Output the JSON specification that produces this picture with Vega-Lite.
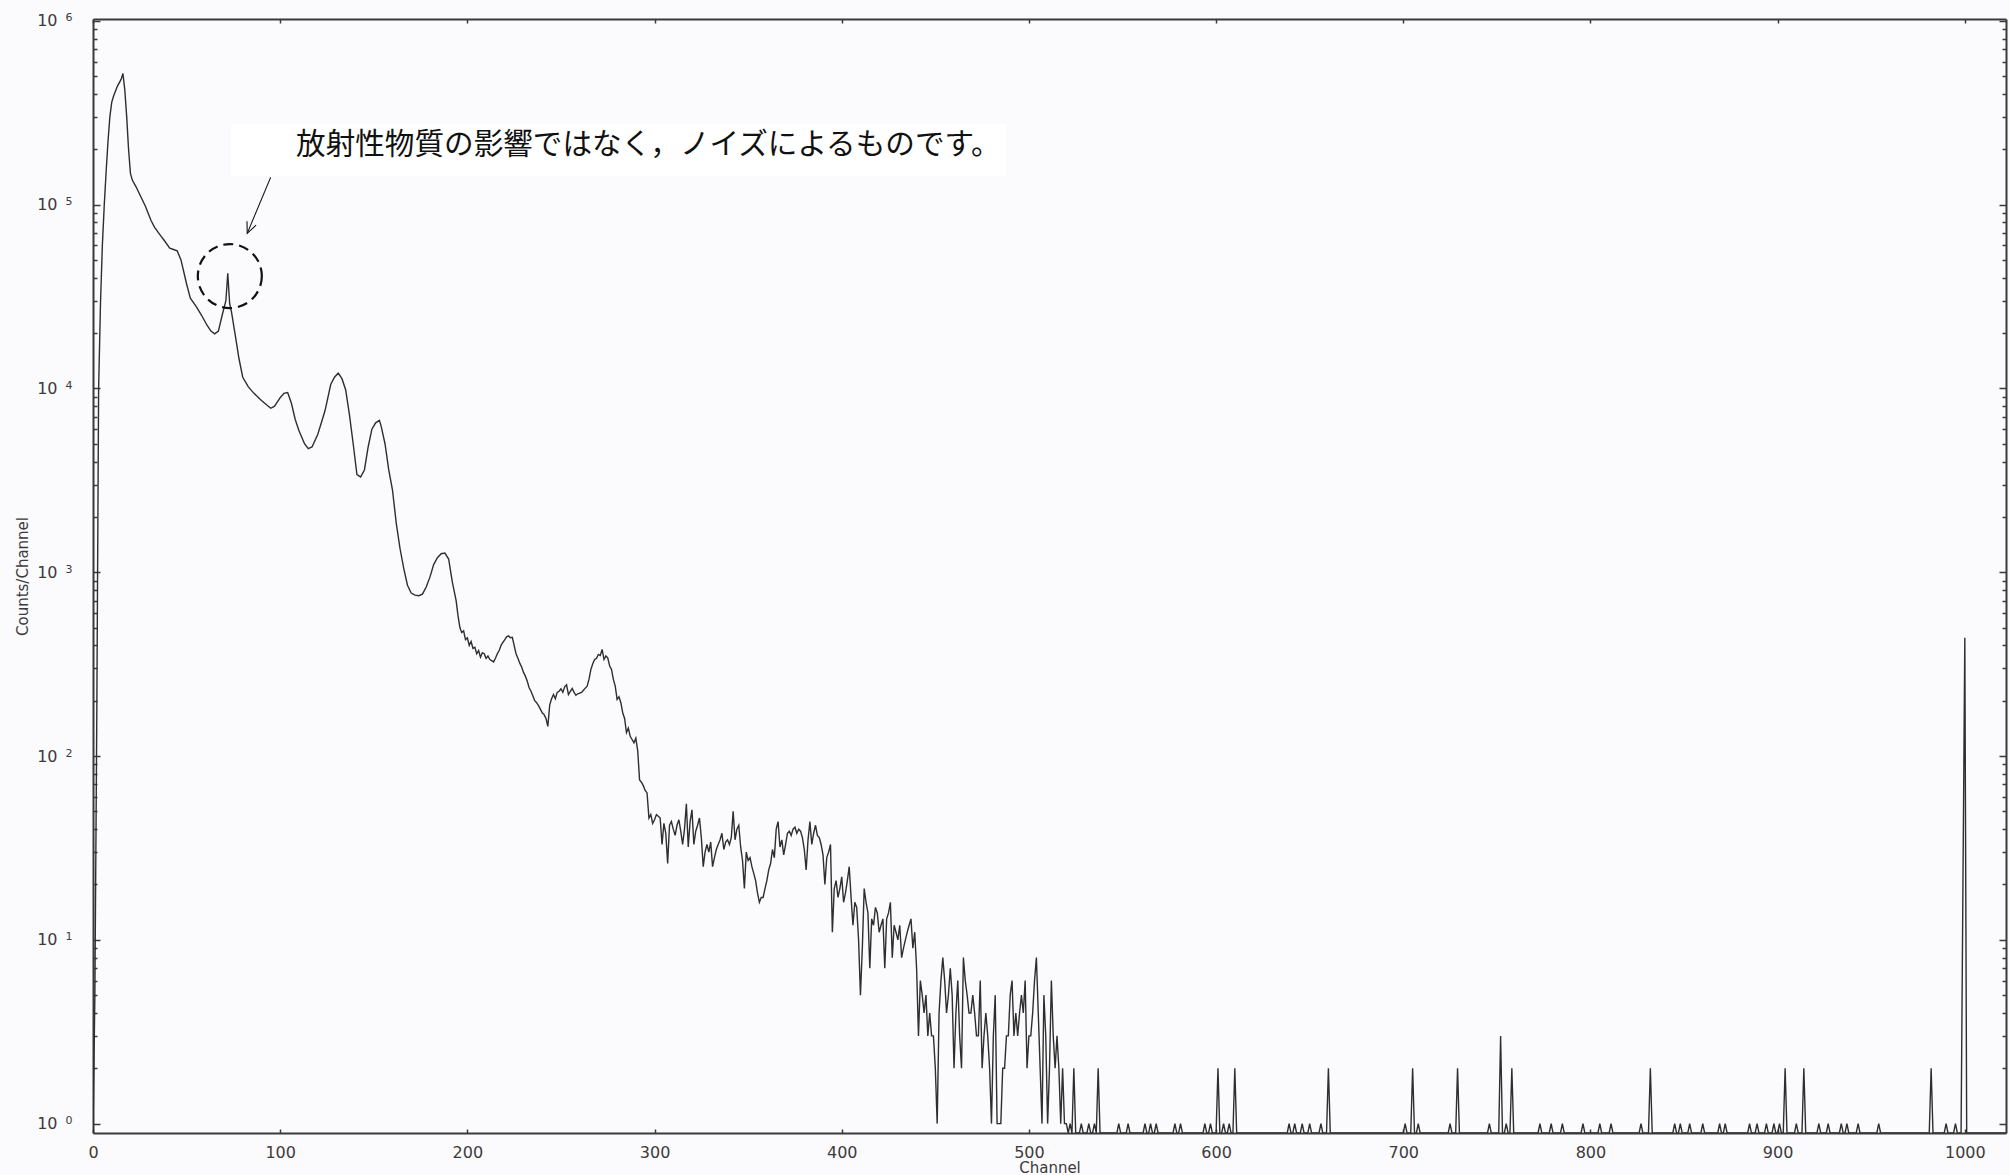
{
"$schema": "https://vega.github.io/schema/vega-lite/v6.json",
"width": 1913, "height": 1114,
"autosize": {"type": "none"},
"padding": {"left": 93, "top": 19, "right": 4, "bottom": 42},
"background": "#fbfafd",
"config": {
  "view": {"stroke": null},
  "axis": {"grid": false, "domainColor": "#3a3a3a", "domainWidth": 2, "tickColor": "#3a3a3a", "tickWidth": 1.5,
    "labelFont": "DejaVu Sans", "labelFontSize": 16, "labelColor": "#3b3b3b", "labelOverlap": false, "labelFlush": false,
    "titleFont": "DejaVu Sans", "titleFontSize": 15, "titleFontWeight": "normal", "titleColor": "#3b3b3b"}
},
"datasets": {
"spec": [
{"c":0,"n":0},{"c":1,"n":5},{"c":2,"n":150},{"c":3,"n":10000},{"c":4,"n":29000},{"c":5,"n":60000},{"c":6,"n":99000},{"c":7,"n":150000},{"c":8,"n":220000},{"c":9,"n":300000},{"c":10,"n":360000},{"c":11,"n":390000},{"c":13,"n":440000},{"c":15,"n":480000},{"c":16,"n":517000},{"c":17,"n":420000},{"c":18,"n":300000},{"c":19,"n":200000},{"c":20,"n":148000},{"c":21,"n":136000},{"c":23,"n":125000},{"c":26,"n":108000},{"c":28,"n":98000},{"c":31,"n":82000},{"c":33,"n":75000},{"c":36,"n":68000},{"c":38,"n":64000},{"c":41,"n":58000},{"c":43,"n":57000},{"c":45,"n":56000},{"c":47,"n":50000},{"c":50,"n":37000},{"c":52,"n":31000},{"c":55,"n":28000},{"c":58,"n":25000},{"c":61,"n":22000},{"c":63,"n":20500},{"c":65,"n":19800},{"c":67,"n":20500},{"c":69,"n":25000},{"c":71,"n":30000},{"c":72,"n":42300},{"c":73,"n":29000},{"c":74,"n":26000},{"c":76,"n":19500},{"c":78,"n":14500},{"c":80,"n":11500},{"c":83,"n":10200},{"c":86,"n":9400},{"c":90,"n":8600},{"c":93,"n":8100},{"c":95,"n":7800},{"c":97,"n":8000},{"c":100,"n":8900},{"c":102,"n":9400},{"c":104,"n":9500},{"c":106,"n":8300},{"c":108,"n":6800},{"c":110,"n":5900},{"c":113,"n":5000},{"c":115,"n":4700},{"c":117,"n":4800},{"c":120,"n":5600},{"c":122,"n":6500},{"c":124,"n":7600},{"c":127,"n":10500},{"c":129,"n":11500},{"c":131,"n":12100},{"c":133,"n":11300},{"c":135,"n":9800},{"c":137,"n":7200},{"c":139,"n":5000},{"c":141,"n":3400},{"c":143,"n":3300},{"c":145,"n":3600},{"c":147,"n":4800},{"c":149,"n":6000},{"c":151,"n":6500},{"c":153,"n":6700},{"c":154,"n":6200},{"c":156,"n":5000},{"c":158,"n":3600},{"c":160,"n":2800},{"c":162,"n":1850},{"c":164,"n":1350},{"c":166,"n":1050},{"c":168,"n":850},{"c":170,"n":770},{"c":172,"n":750},{"c":174,"n":745},{"c":176,"n":760},{"c":178,"n":830},{"c":180,"n":940},{"c":182,"n":1100},{"c":184,"n":1200},{"c":186,"n":1260},{"c":188,"n":1270},{"c":190,"n":1180},{"c":192,"n":880},{"c":194,"n":700},{"c":195,"n":580},{"c":196,"n":500},{"c":197,"n":470},{"c":198,"n":480},{"c":199,"n":430},{"c":200,"n":440},{"c":201,"n":400},{"c":202,"n":420},{"c":203,"n":385},{"c":204,"n":390},{"c":205,"n":360},{"c":206,"n":375},{"c":207,"n":345},{"c":208,"n":365},{"c":209,"n":360},{"c":210,"n":340},{"c":211,"n":350},{"c":212,"n":335},{"c":213,"n":330},{"c":214,"n":325},{"c":215,"n":340},{"c":216,"n":360},{"c":217,"n":375},{"c":218,"n":400},{"c":219,"n":415},{"c":220,"n":430},{"c":221,"n":445},{"c":222,"n":450},{"c":223,"n":440},{"c":224,"n":442},{"c":225,"n":400},{"c":226,"n":360},{"c":227,"n":340},{"c":228,"n":320},{"c":229,"n":305},{"c":230,"n":285},{"c":231,"n":272},{"c":232,"n":255},{"c":233,"n":235},{"c":234,"n":225},{"c":235,"n":212},{"c":236,"n":200},{"c":237,"n":195},{"c":238,"n":188},{"c":239,"n":180},{"c":240,"n":172},{"c":241,"n":168},{"c":242,"n":160},{"c":243,"n":145},{"c":244,"n":190},{"c":245,"n":205},{"c":246,"n":216},{"c":247,"n":205},{"c":248,"n":222},{"c":249,"n":225},{"c":250,"n":232},{"c":251,"n":222},{"c":252,"n":238},{"c":253,"n":244},{"c":254,"n":216},{"c":255,"n":225},{"c":256,"n":233},{"c":257,"n":222},{"c":258,"n":214},{"c":259,"n":218},{"c":260,"n":220},{"c":261,"n":222},{"c":262,"n":228},{"c":263,"n":234},{"c":264,"n":240},{"c":265,"n":262},{"c":266,"n":296},{"c":267,"n":318},{"c":268,"n":335},{"c":269,"n":340},{"c":270,"n":357},{"c":271,"n":352},{"c":272,"n":380},{"c":273,"n":335},{"c":274,"n":350},{"c":275,"n":342},{"c":276,"n":310},{"c":277,"n":296},{"c":278,"n":261},{"c":279,"n":240},{"c":280,"n":203},{"c":281,"n":210},{"c":282,"n":195},{"c":283,"n":172},{"c":284,"n":160},{"c":285,"n":134},{"c":286,"n":142},{"c":287,"n":128},{"c":288,"n":123},{"c":289,"n":118},{"c":290,"n":125},{"c":291,"n":107},{"c":292,"n":74},{"c":293,"n":72},{"c":294,"n":69},{"c":295,"n":65},{"c":296,"n":63},{"c":297,"n":46},{"c":298,"n":48},{"c":299,"n":43},{"c":300,"n":45},{"c":301,"n":48},{"c":302,"n":47},{"c":303,"n":46},{"c":304,"n":33},{"c":305,"n":43},{"c":306,"n":38},{"c":307,"n":26},{"c":308,"n":42},{"c":309,"n":44},{"c":310,"n":40},{"c":311,"n":37},{"c":312,"n":42},{"c":313,"n":45},{"c":314,"n":39},{"c":315,"n":33},{"c":316,"n":40},{"c":317,"n":55},{"c":318,"n":32},{"c":319,"n":44},{"c":320,"n":51},{"c":321,"n":33},{"c":322,"n":39},{"c":323,"n":42},{"c":324,"n":46},{"c":325,"n":36},{"c":326,"n":25},{"c":327,"n":30},{"c":328,"n":33},{"c":329,"n":30},{"c":330,"n":34},{"c":331,"n":25},{"c":332,"n":28},{"c":333,"n":31},{"c":334,"n":33},{"c":335,"n":35},{"c":336,"n":38},{"c":337,"n":31},{"c":338,"n":34},{"c":339,"n":35},{"c":340,"n":33},{"c":341,"n":36},{"c":342,"n":50},{"c":343,"n":35},{"c":344,"n":40},{"c":345,"n":42},{"c":346,"n":32},{"c":347,"n":27},{"c":348,"n":19},{"c":349,"n":30},{"c":350,"n":27},{"c":351,"n":28},{"c":352,"n":25},{"c":353,"n":23},{"c":354,"n":21},{"c":355,"n":18},{"c":356,"n":16},{"c":357,"n":17},{"c":358,"n":17},{"c":359,"n":19},{"c":360,"n":21},{"c":361,"n":24},{"c":362,"n":26},{"c":363,"n":31},{"c":364,"n":28},{"c":365,"n":40},{"c":366,"n":44},{"c":367,"n":32},{"c":368,"n":35},{"c":369,"n":29},{"c":370,"n":33},{"c":371,"n":38},{"c":372,"n":39},{"c":373,"n":37},{"c":374,"n":40},{"c":375,"n":41},{"c":376,"n":38},{"c":377,"n":40},{"c":378,"n":39},{"c":379,"n":36},{"c":380,"n":31},{"c":381,"n":24},{"c":382,"n":35},{"c":383,"n":44},{"c":384,"n":33},{"c":385,"n":38},{"c":386,"n":42},{"c":387,"n":37},{"c":388,"n":36},{"c":389,"n":33},{"c":390,"n":29},{"c":391,"n":20},{"c":392,"n":28},{"c":393,"n":30},{"c":394,"n":33},{"c":395,"n":11},{"c":396,"n":19},{"c":397,"n":21},{"c":398,"n":17},{"c":399,"n":19},{"c":400,"n":22},{"c":401,"n":16},{"c":402,"n":18},{"c":403,"n":21},{"c":404,"n":25},{"c":405,"n":17},{"c":406,"n":12},{"c":407,"n":16},{"c":408,"n":15},{"c":409,"n":10},{"c":410,"n":5},{"c":411,"n":9},{"c":412,"n":19},{"c":413,"n":16},{"c":414,"n":14},{"c":415,"n":7},{"c":416,"n":13},{"c":417,"n":12},{"c":418,"n":15},{"c":419,"n":14},{"c":420,"n":11},{"c":421,"n":12},{"c":422,"n":13},{"c":423,"n":7},{"c":424,"n":13},{"c":425,"n":14},{"c":426,"n":16},{"c":427,"n":8},{"c":428,"n":12},{"c":429,"n":11},{"c":430,"n":10},{"c":431,"n":12},{"c":432,"n":8},{"c":433,"n":9},{"c":434,"n":10},{"c":435,"n":11},{"c":436,"n":12},{"c":437,"n":13},{"c":438,"n":9},{"c":439,"n":11},{"c":440,"n":7},{"c":441,"n":3},{"c":442,"n":6},{"c":443,"n":5},{"c":444,"n":4},{"c":445,"n":5},{"c":446,"n":3},{"c":447,"n":4},{"c":448,"n":3},{"c":449,"n":3},{"c":450,"n":2},{"c":451,"n":1},{"c":452,"n":4},{"c":453,"n":6},{"c":454,"n":8},{"c":455,"n":6},{"c":456,"n":4},{"c":457,"n":5},{"c":458,"n":7},{"c":459,"n":5},{"c":460,"n":2},{"c":461,"n":4},{"c":462,"n":6},{"c":463,"n":3},{"c":464,"n":2},{"c":465,"n":8},{"c":466,"n":6},{"c":467,"n":5},{"c":468,"n":4},{"c":469,"n":4},{"c":470,"n":5},{"c":471,"n":4},{"c":472,"n":3},{"c":473,"n":3},{"c":474,"n":6},{"c":475,"n":2},{"c":476,"n":3},{"c":477,"n":4},{"c":478,"n":3},{"c":479,"n":2},{"c":480,"n":1},{"c":481,"n":3},{"c":482,"n":5},{"c":483,"n":1},{"c":484,"n":1},{"c":485,"n":1},{"c":486,"n":2},{"c":487,"n":2},{"c":488,"n":3},{"c":489,"n":3},{"c":490,"n":5},{"c":491,"n":6},{"c":492,"n":3},{"c":493,"n":4},{"c":494,"n":3},{"c":495,"n":4},{"c":496,"n":5},{"c":497,"n":4},{"c":498,"n":6},{"c":499,"n":2},{"c":500,"n":3},{"c":501,"n":3},{"c":502,"n":4},{"c":503,"n":6},{"c":504,"n":8},{"c":505,"n":4},{"c":506,"n":2},{"c":507,"n":1},{"c":508,"n":5},{"c":509,"n":3},{"c":510,"n":1},{"c":511,"n":2},{"c":512,"n":6},{"c":513,"n":3},{"c":514,"n":2},{"c":515,"n":3},{"c":516,"n":2},{"c":517,"n":1},{"c":518,"n":2},{"c":519,"n":1},{"c":520,"n":1},
{"c":521,"n":0},{"c":522,"n":1},{"c":523,"n":0},{"c":524,"n":2},{"c":525,"n":0},{"c":527,"n":0},{"c":528,"n":1},{"c":529,"n":0},{"c":531,"n":0},{"c":532,"n":1},{"c":533,"n":0},{"c":534,"n":0},{"c":535,"n":1},{"c":536,"n":0},{"c":537,"n":2},{"c":538,"n":0},
{"c":547,"n":0},{"c":548,"n":1},{"c":549,"n":0},{"c":552,"n":0},{"c":553,"n":1},{"c":554,"n":0},
{"c":561,"n":0},{"c":562,"n":1},{"c":563,"n":0},{"c":564,"n":0},{"c":565,"n":1},{"c":566,"n":0},{"c":567,"n":0},{"c":568,"n":1},{"c":569,"n":0},
{"c":577,"n":0},{"c":578,"n":1},{"c":579,"n":0},{"c":580,"n":0},{"c":581,"n":1},{"c":582,"n":0},
{"c":593,"n":0},{"c":594,"n":1},{"c":595,"n":0},{"c":596,"n":0},{"c":597,"n":1},{"c":598,"n":0},{"c":600,"n":0},{"c":601,"n":2},{"c":602,"n":0},{"c":603,"n":0},{"c":604,"n":1},{"c":605,"n":0},{"c":606,"n":0},{"c":607,"n":1},{"c":608,"n":0},{"c":609,"n":0},{"c":610,"n":2},{"c":611,"n":0},
{"c":638,"n":0},{"c":639,"n":1},{"c":640,"n":0},{"c":641,"n":0},{"c":642,"n":1},{"c":643,"n":0},{"c":645,"n":0},{"c":646,"n":1},{"c":647,"n":0},{"c":649,"n":0},{"c":650,"n":1},{"c":651,"n":0},{"c":655,"n":0},{"c":656,"n":1},{"c":657,"n":0},{"c":659,"n":0},{"c":660,"n":2},{"c":661,"n":0},
{"c":700,"n":0},{"c":701,"n":1},{"c":702,"n":0},{"c":704,"n":0},{"c":705,"n":2},{"c":706,"n":0},{"c":707,"n":0},{"c":708,"n":1},{"c":709,"n":0},
{"c":724,"n":0},{"c":725,"n":1},{"c":726,"n":0},{"c":728,"n":0},{"c":729,"n":2},{"c":730,"n":0},
{"c":745,"n":0},{"c":746,"n":1},{"c":747,"n":0},{"c":751,"n":0},{"c":752,"n":3},{"c":753,"n":0},{"c":754,"n":0},{"c":755,"n":1},{"c":756,"n":0},{"c":757,"n":0},{"c":758,"n":2},{"c":759,"n":0},
{"c":772,"n":0},{"c":773,"n":1},{"c":774,"n":0},{"c":778,"n":0},{"c":779,"n":1},{"c":780,"n":0},{"c":784,"n":0},{"c":785,"n":1},{"c":786,"n":0},
{"c":795,"n":0},{"c":796,"n":1},{"c":797,"n":0},{"c":804,"n":0},{"c":805,"n":1},{"c":806,"n":0},{"c":810,"n":0},{"c":811,"n":1},{"c":812,"n":0},
{"c":826,"n":0},{"c":827,"n":1},{"c":828,"n":0},{"c":831,"n":0},{"c":832,"n":2},{"c":833,"n":0},
{"c":844,"n":0},{"c":845,"n":1},{"c":846,"n":0},{"c":847,"n":0},{"c":848,"n":1},{"c":849,"n":0},{"c":852,"n":0},{"c":853,"n":1},{"c":854,"n":0},{"c":859,"n":0},{"c":860,"n":1},{"c":861,"n":0},
{"c":868,"n":0},{"c":869,"n":1},{"c":870,"n":0},{"c":871,"n":0},{"c":872,"n":1},{"c":873,"n":0},
{"c":884,"n":0},{"c":885,"n":1},{"c":886,"n":0},{"c":888,"n":0},{"c":889,"n":1},{"c":890,"n":0},{"c":893,"n":0},{"c":894,"n":1},{"c":895,"n":0},{"c":897,"n":0},{"c":898,"n":1},{"c":899,"n":0},{"c":900,"n":0},{"c":901,"n":1},{"c":902,"n":0},{"c":903,"n":0},{"c":904,"n":2},{"c":905,"n":0},
{"c":909,"n":0},{"c":910,"n":1},{"c":911,"n":0},{"c":913,"n":0},{"c":914,"n":2},{"c":915,"n":0},
{"c":921,"n":0},{"c":922,"n":1},{"c":923,"n":0},{"c":926,"n":0},{"c":927,"n":1},{"c":928,"n":0},{"c":933,"n":0},{"c":934,"n":1},{"c":935,"n":0},{"c":936,"n":0},{"c":937,"n":1},{"c":938,"n":0},{"c":942,"n":0},{"c":943,"n":1},{"c":944,"n":0},
{"c":953,"n":0},{"c":954,"n":1},{"c":955,"n":0},
{"c":981,"n":0},{"c":982,"n":2},{"c":983,"n":0},{"c":989,"n":0},{"c":990,"n":1},{"c":991,"n":0},{"c":994,"n":0},{"c":995,"n":1},{"c":996,"n":0},
{"c":998,"n":0},{"c":999,"n":20},{"c":1000,"n":440},{"c":1001,"n":0},{"c":1022,"n":0}
],
"box": [{"c": 73.7, "c2": 487.8, "n": 143000, "n2": 274400}],
"arrow": [{"c": 94.9, "n": 140700, "c2": 82.4, "n2": 69760}],
"head": [{"c": 82.4, "n": 69760}],
"ring": [{"c": 73.1, "n": 40860}],
"note": [{"c": 108.5, "n": 211000, "label": "放射性物質の影響ではなく，ノイズによるものです。"}]
},
"layer": [
{
  "data": {"name": "box"},
  "mark": {"type": "rect", "fill": "#ffffff", "stroke": null},
  "encoding": {
    "x": {"field": "c", "type": "quantitative", "scale": {"domain": [0, 1022], "nice": false, "zero": false},
      "axis": {"orient": "top", "labels": false, "title": null, "values": [0,100,200,300,400,500,600,700,800,900,1000], "tickSize": -4}},
    "x2": {"field": "c2"},
    "y": {"field": "n", "type": "quantitative", "scale": {"type": "log", "domain": [0.889, 1023000], "nice": false, "clamp": true},
      "axis": {"orient": "right", "labels": false, "title": null,
        "values": [1,2,3,4,5,6,7,8,9,10,20,30,40,50,60,70,80,90,100,200,300,400,500,600,700,800,900,1000,2000,3000,4000,5000,6000,7000,8000,9000,10000,20000,30000,40000,50000,60000,70000,80000,90000,100000,200000,300000,400000,500000,600000,700000,800000,900000,1000000],
        "tickSize": {"condition": {"test": "abs(log(datum.value)/LN10 - round(log(datum.value)/LN10)) < 0.000001", "value": -7}, "value": -4}}},
    "y2": {"field": "n2"}
  }
},
{
  "data": {"name": "spec"},
  "mark": {"type": "line", "stroke": "#2e2e2e", "strokeWidth": 1.4, "invalid": "show", "clip": true},
  "encoding": {
    "x": {"field": "c", "type": "quantitative",
      "axis": {"orient": "bottom", "title": "Channel", "format": "d", "values": [0,100,200,300,400,500,600,700,800,900,1000], "tickSize": -4, "labelPadding": 15, "titlePadding": 0}},
    "y": {"field": "n", "type": "quantitative",
      "axis": {"orient": "left", "title": "Counts/Channel", "titlePadding": 6,
        "values": [1,2,3,4,5,6,7,8,9,10,20,30,40,50,60,70,80,90,100,200,300,400,500,600,700,800,900,1000,2000,3000,4000,5000,6000,7000,8000,9000,10000,20000,30000,40000,50000,60000,70000,80000,90000,100000,200000,300000,400000,500000,600000,700000,800000,900000,1000000],
        "labelExpr": "abs(log(datum.value)/LN10 - round(log(datum.value)/LN10)) < 0.000001 ? '10' : ''",
        "labelPadding": 43,
        "tickSize": {"condition": {"test": "abs(log(datum.value)/LN10 - round(log(datum.value)/LN10)) < 0.000001", "value": -7}, "value": -4}}}
  }
},
{
  "data": {"name": "arrow"},
  "mark": {"type": "rule", "stroke": "#111111", "strokeWidth": 1.1},
  "encoding": {
    "x": {"field": "c", "type": "quantitative", "axis": null},
    "y": {"field": "n", "type": "quantitative", "axis": null},
    "x2": {"field": "c2"},
    "y2": {"field": "n2"}
  }
},
{
  "data": {"name": "head"},
  "mark": {"type": "point", "shape": "M -0.45 -1 L 0 0 L 0.45 -1", "size": 484, "angle": 23, "filled": false, "stroke": "#111111", "strokeWidth": 1.1, "opacity": 1},
  "encoding": {
    "x": {"field": "c", "type": "quantitative", "axis": null},
    "y": {"field": "n", "type": "quantitative", "axis": null}
  }
},
{
  "data": {"name": "ring"},
  "mark": {"type": "point", "shape": "circle", "size": 4096, "filled": false, "stroke": "#111111", "strokeWidth": 2.2, "strokeDash": [10, 6], "opacity": 1},
  "encoding": {
    "x": {"field": "c", "type": "quantitative", "axis": null},
    "y": {"field": "n", "type": "quantitative",
      "axis": {"orient": "left", "title": null, "domain": false, "ticks": true, "tickColor": "transparent", "tickSize": -7,
        "values": [1,10,100,1000,10000,100000,1000000],
        "labelExpr": "'' + round(log(datum.value)/LN10)",
        "labelFontSize": 11, "labelOffset": -3, "labelPadding": 28}}
  }
},
{
  "data": {"name": "note"},
  "mark": {"type": "text", "align": "left", "baseline": "middle", "font": "Noto Sans CJK JP", "fontSize": 29.6, "color": "#111111"},
  "encoding": {
    "x": {"field": "c", "type": "quantitative", "axis": null},
    "y": {"field": "n", "type": "quantitative", "axis": null},
    "text": {"field": "label"}
  }
}
],
"resolve": {"axis": {"x": "independent", "y": "independent"}}
}
